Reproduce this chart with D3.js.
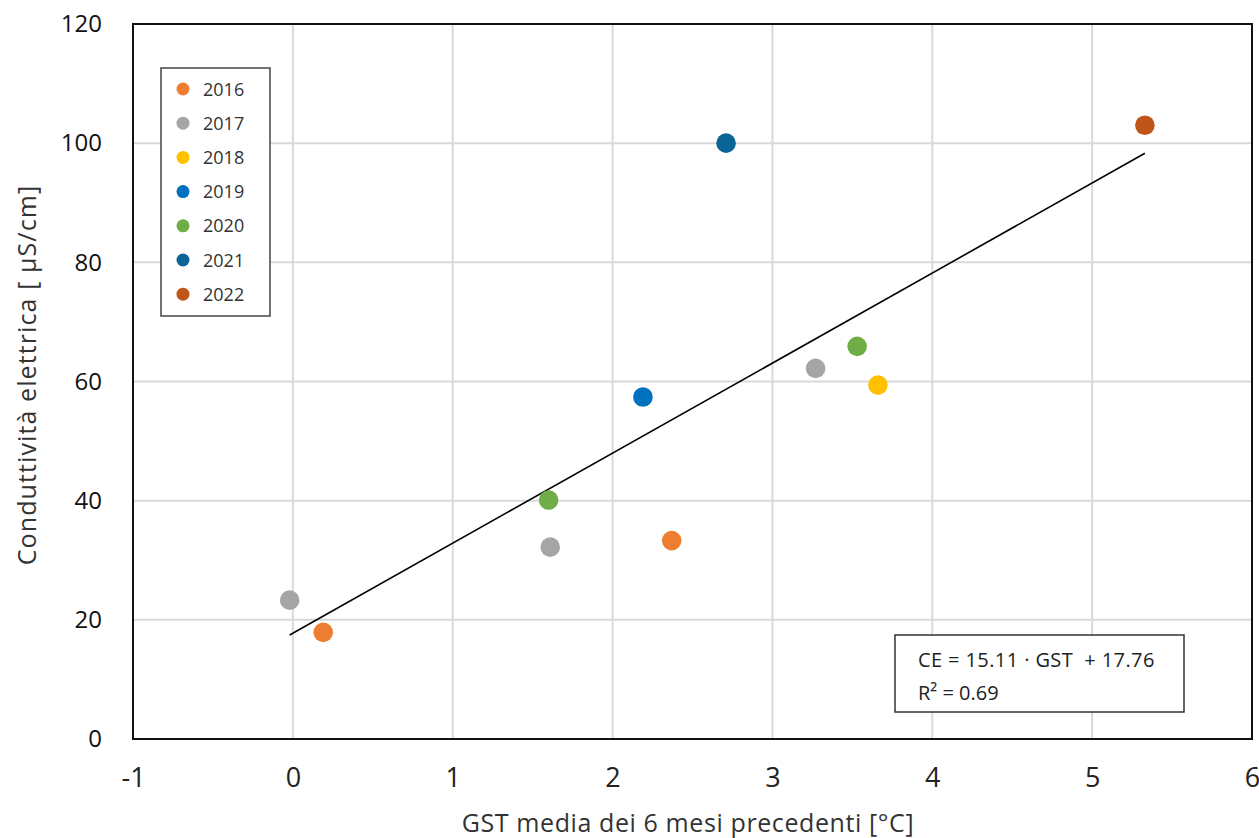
<!DOCTYPE html>
<html><head><meta charset="utf-8">
<script src="https://cdn.jsdelivr.net/npm/d3@7"></script>
<style>body{margin:0;background:#fff}</style>
</head><body>
<svg id="chart" width="1259" height="838"></svg>
<script>
const years = ["2016","2017","2018","2019","2020","2021","2022"];
const colors = ["#ED7D31","#A5A5A5","#FFC000","#0070C0","#70AD47","#0B6496","#BF5516"];
const gst2016 = [0.19, 2.37], ce2016 = [17.9, 33.3];
const gst2017 = [-0.02, 1.61, 3.27], ce2017 = [23.3, 32.2, 62.2];
const gst2018 = [3.66], ce2018 = [59.4];
const gst2019 = [2.19], ce2019 = [57.4];
const gst2020 = [1.60, 3.53], ce2020 = [40.1, 65.9];
const gst2021 = [2.71], ce2021 = [100];
const gst2022 = [5.33], ce2022 = [103];
const seriesX = [gst2016, gst2017, gst2018, gst2019, gst2020, gst2021, gst2022];
const seriesY = [ce2016, ce2017, ce2018, ce2019, ce2020, ce2021, ce2022];
const xTicks = [-1,0,1,2,3,4,5,6];
const yTicks = [0,20,40,60,80,100,120];
const slope = 15.11, intercept = 17.76;
const fitRange = [-0.02, 5.33];

const FONT = "'Open Sans',sans-serif";
const svg = d3.select("#chart");
const L = 133, R = 1252, T = 24, B = 739;
const x = d3.scaleLinear().domain([-1,6]).range([L,R]);
const y = d3.scaleLinear().domain([0,120]).range([B,T]);

// grid
svg.append("g").selectAll("line").data(xTicks).join("line")
  .attr("x1",d=>x(d)).attr("x2",d=>x(d)).attr("y1",T).attr("y2",B)
  .attr("stroke","#d9d9d9").attr("stroke-width",2);
svg.append("g").selectAll("line").data(yTicks).join("line")
  .attr("x1",L).attr("x2",R).attr("y1",d=>y(d)).attr("y2",d=>y(d))
  .attr("stroke","#d9d9d9").attr("stroke-width",2);

// axes
const xAxis = svg.append("g").attr("transform",`translate(0,${B})`)
  .call(d3.axisBottom(x).tickValues(xTicks).tickSize(0).tickPadding(29)
    .tickFormat(d => d < 0 ? "-" + Math.abs(d) : String(d)));
xAxis.select(".domain").remove();
xAxis.selectAll("text").attr("font-family",FONT)
  .attr("font-size",27).attr("fill","#222");
const yAxis = svg.append("g").attr("transform",`translate(${L},0)`)
  .call(d3.axisLeft(y).tickValues(yTicks).tickSize(0).tickPadding(31));
yAxis.select(".domain").remove();
yAxis.selectAll("text").attr("font-family",FONT)
  .attr("font-size",24).attr("fill","#111");

// frame
svg.append("rect").attr("x",L).attr("y",T).attr("width",R-L).attr("height",B-T)
  .attr("fill","none").attr("stroke","#111").attr("stroke-width",2);

// fit line
svg.append("line")
  .attr("x1",x(fitRange[0])).attr("y1",y(slope*fitRange[0]+intercept))
  .attr("x2",x(fitRange[1])).attr("y2",y(slope*fitRange[1]+intercept))
  .attr("stroke","#000").attr("stroke-width",1.6);

// points
years.forEach((yr,i)=>{
  const pts = seriesX[i].map((v,j)=>[v, seriesY[i][j]]);
  svg.append("g").selectAll("circle").data(pts).join("circle")
    .attr("cx",d=>x(d[0])).attr("cy",d=>y(d[1])).attr("r",9.8)
    .attr("fill",colors[i]);
});

// legend
const lg = svg.append("g");
lg.append("rect").attr("x",161).attr("y",68).attr("width",109).attr("height",248)
  .attr("fill","#fff").attr("stroke","#444").attr("stroke-width",1.5);
years.forEach((yr,i)=>{
  const cy = 89 + i*34.2;
  lg.append("circle").attr("cx",183).attr("cy",cy).attr("r",6.5).attr("fill",colors[i]);
  lg.append("text").attr("x",203).attr("y",cy+6.5).text(yr)
    .attr("font-family",FONT).attr("font-size",18).attr("fill","#333");
});

// equation box
const eq = svg.append("g");
eq.append("rect").attr("x",895).attr("y",635).attr("width",289).attr("height",77)
  .attr("fill","#fff").attr("stroke","#333").attr("stroke-width",1.5);
eq.append("text").attr("x",918).attr("y",667)
  .attr("font-family",FONT).attr("font-size",20).attr("letter-spacing",0.4).attr("fill","#222")
  .attr("xml:space","preserve").text(`CE = ${slope.toFixed(2)} · GST  + ${intercept.toFixed(2)}`);
eq.append("text").attr("x",918).attr("y",700)
  .attr("font-family",FONT).attr("font-size",20).attr("fill","#222")
  .text("R² = 0.69");

// axis titles
svg.append("text").attr("x",688).attr("y",832).attr("text-anchor","middle")
  .attr("font-family",FONT).attr("font-size",25).attr("letter-spacing",0.6).attr("fill","#333")
  .text("GST media dei 6 mesi precedenti [°C]");
svg.append("text").attr("transform","translate(36,375) rotate(-90)").attr("text-anchor","middle")
  .attr("font-family",FONT).attr("font-size",25).attr("letter-spacing",1.1).attr("fill","#333")
  .text("Conduttività elettrica [ µS/cm]");
</script>
</body></html>
